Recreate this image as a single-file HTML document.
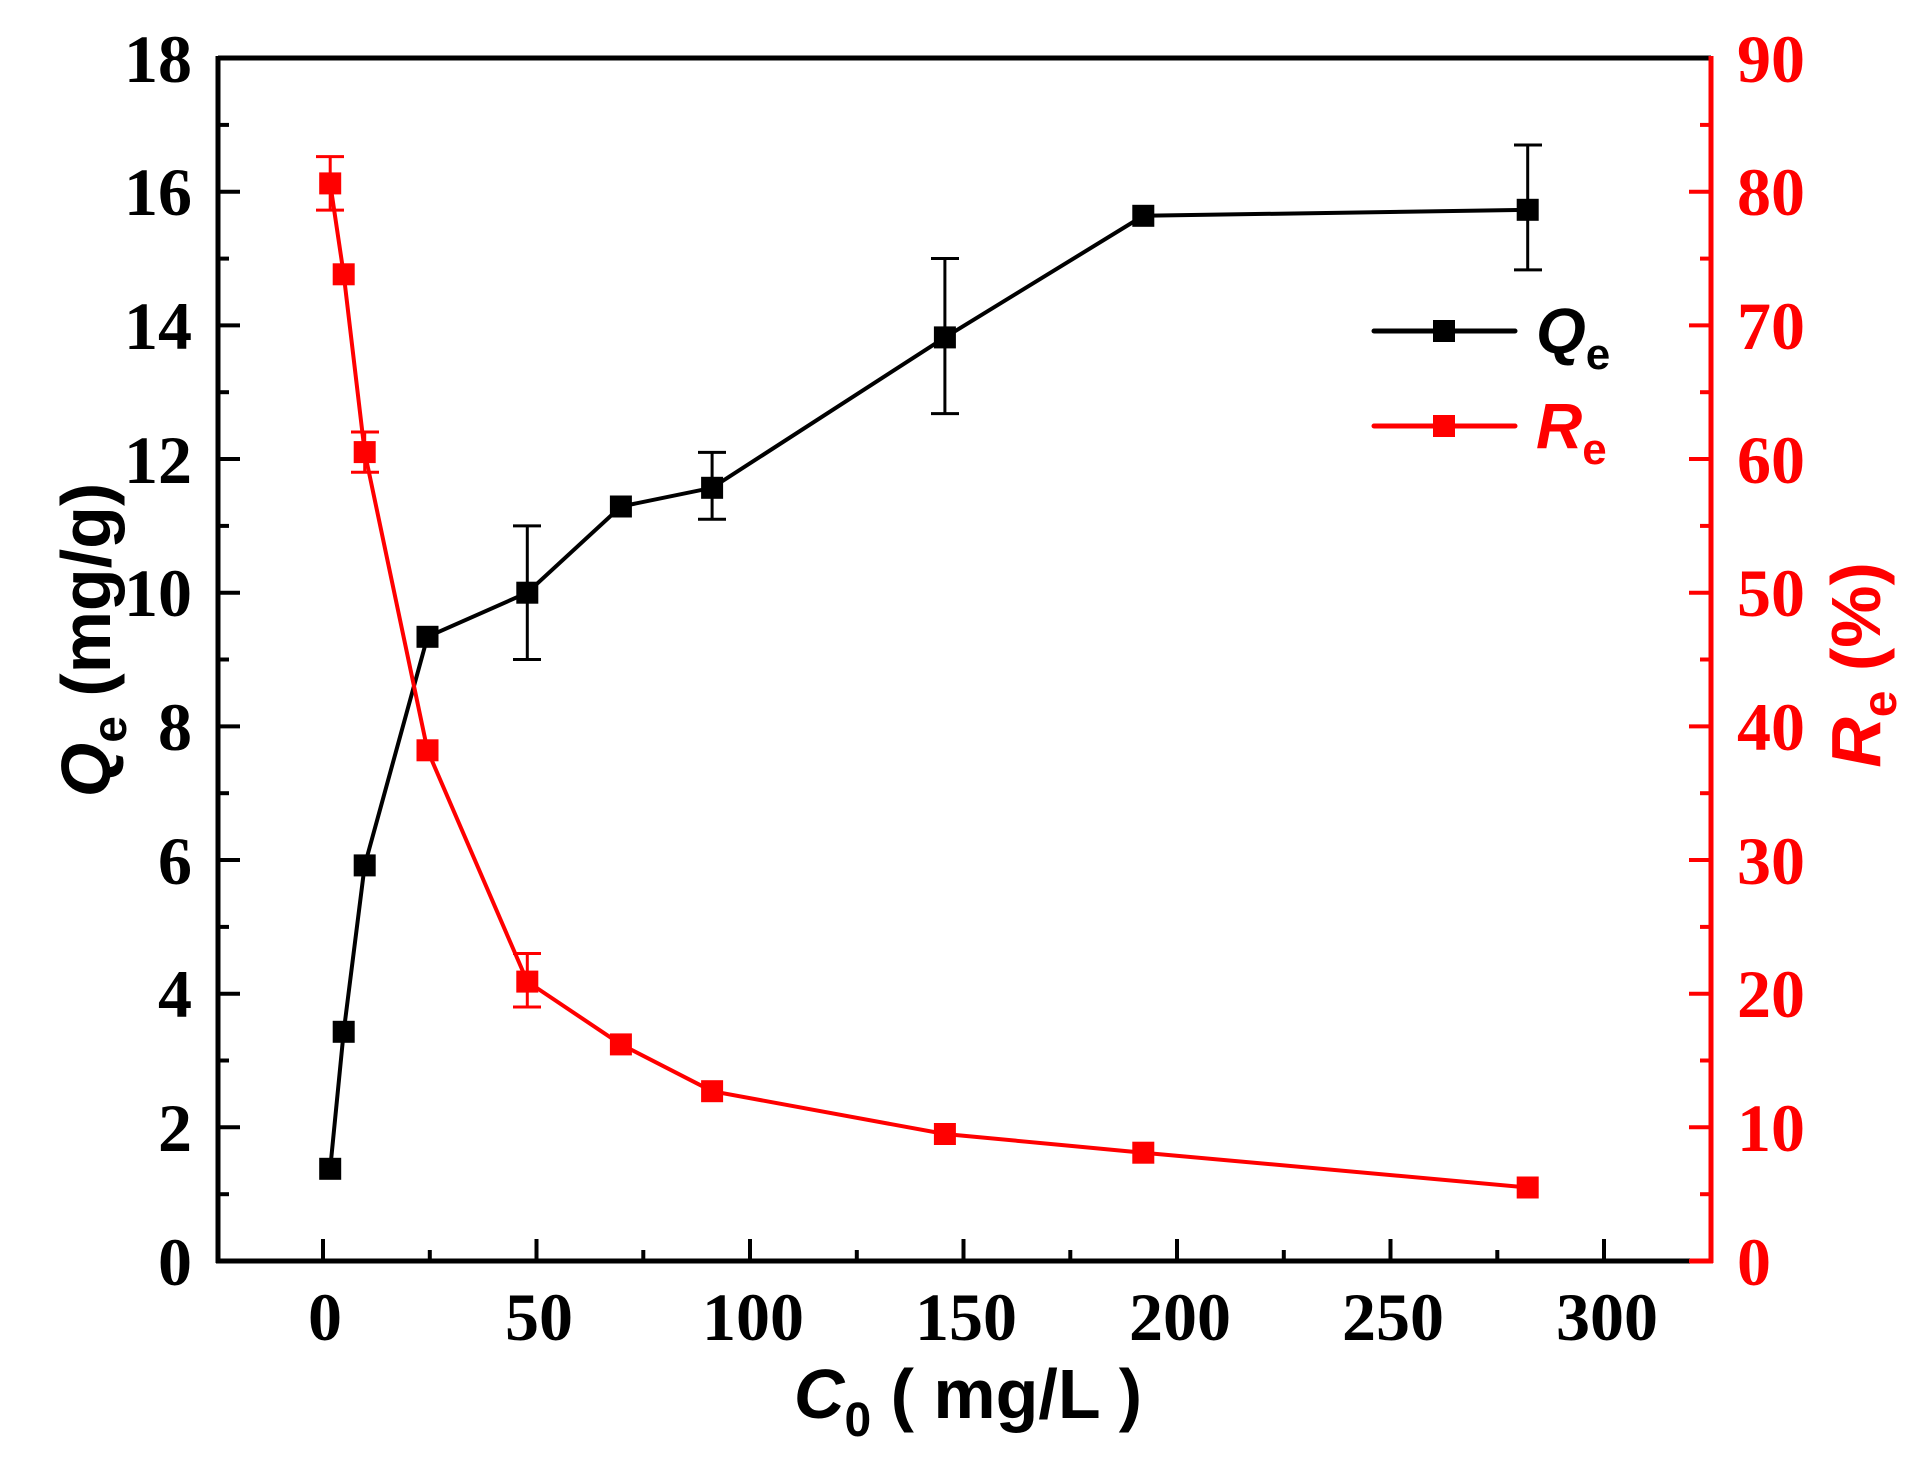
<!DOCTYPE html>
<html><head><meta charset="utf-8"><style>html,body{margin:0;padding:0;background:#fff}svg{display:block}</style></head>
<body>
<svg width="1932" height="1468" viewBox="0 0 1932 1468" xmlns="http://www.w3.org/2000/svg">
<line x1="218" y1="58" x2="1711" y2="58" stroke="#000" stroke-width="5"/>
<line x1="218" y1="56" x2="218" y2="1263" stroke="#000" stroke-width="5"/>
<line x1="216" y1="1261" x2="1690" y2="1261" stroke="#000" stroke-width="5"/>
<line x1="1690" y1="1261" x2="1713" y2="1261" stroke="#f00" stroke-width="5"/>
<line x1="1711" y1="56" x2="1711" y2="1263" stroke="#f00" stroke-width="5"/>
<g stroke="#000" stroke-width="4">
<line x1="218" x2="240" y1="1261" y2="1261"/><line x1="218" x2="229" y1="1194.2" y2="1194.2"/>
<line x1="218" x2="240" y1="1127.3" y2="1127.3"/><line x1="218" x2="229" y1="1060.5" y2="1060.5"/>
<line x1="218" x2="240" y1="993.7" y2="993.7"/><line x1="218" x2="229" y1="926.9" y2="926.9"/>
<line x1="218" x2="240" y1="860" y2="860"/><line x1="218" x2="229" y1="793.2" y2="793.2"/>
<line x1="218" x2="240" y1="726.4" y2="726.4"/><line x1="218" x2="229" y1="659.5" y2="659.5"/>
<line x1="218" x2="240" y1="592.7" y2="592.7"/><line x1="218" x2="229" y1="525.9" y2="525.9"/>
<line x1="218" x2="240" y1="459" y2="459"/><line x1="218" x2="229" y1="392.2" y2="392.2"/>
<line x1="218" x2="240" y1="325.4" y2="325.4"/><line x1="218" x2="229" y1="258.6" y2="258.6"/>
<line x1="218" x2="240" y1="191.7" y2="191.7"/><line x1="218" x2="229" y1="124.9" y2="124.9"/>
<line x1="323" x2="323" y1="1261" y2="1239"/><line x1="429.8" x2="429.8" y1="1261" y2="1250"/>
<line x1="536.5" x2="536.5" y1="1261" y2="1239"/><line x1="643.3" x2="643.3" y1="1261" y2="1250"/>
<line x1="750" x2="750" y1="1261" y2="1239"/><line x1="856.8" x2="856.8" y1="1261" y2="1250"/>
<line x1="963.5" x2="963.5" y1="1261" y2="1239"/><line x1="1070.3" x2="1070.3" y1="1261" y2="1250"/>
<line x1="1177" x2="1177" y1="1261" y2="1239"/><line x1="1283.8" x2="1283.8" y1="1261" y2="1250"/>
<line x1="1390.5" x2="1390.5" y1="1261" y2="1239"/><line x1="1497.3" x2="1497.3" y1="1261" y2="1250"/>
<line x1="1604" x2="1604" y1="1261" y2="1239"/>
</g>
<g stroke="#f00" stroke-width="4">
<line x1="1711" x2="1689" y1="1261" y2="1261"/><line x1="1711" x2="1700" y1="1194.2" y2="1194.2"/>
<line x1="1711" x2="1689" y1="1127.3" y2="1127.3"/><line x1="1711" x2="1700" y1="1060.5" y2="1060.5"/>
<line x1="1711" x2="1689" y1="993.7" y2="993.7"/><line x1="1711" x2="1700" y1="926.9" y2="926.9"/>
<line x1="1711" x2="1689" y1="860" y2="860"/><line x1="1711" x2="1700" y1="793.2" y2="793.2"/>
<line x1="1711" x2="1689" y1="726.4" y2="726.4"/><line x1="1711" x2="1700" y1="659.5" y2="659.5"/>
<line x1="1711" x2="1689" y1="592.7" y2="592.7"/><line x1="1711" x2="1700" y1="525.9" y2="525.9"/>
<line x1="1711" x2="1689" y1="459" y2="459"/><line x1="1711" x2="1700" y1="392.2" y2="392.2"/>
<line x1="1711" x2="1689" y1="325.4" y2="325.4"/><line x1="1711" x2="1700" y1="258.6" y2="258.6"/>
<line x1="1711" x2="1689" y1="191.7" y2="191.7"/><line x1="1711" x2="1700" y1="124.9" y2="124.9"/>
</g>
<g font-family="Liberation Serif, serif" font-weight="bold" font-size="68" text-anchor="end" fill="#000">
<text x="192" y="1285">0</text><text x="192" y="1151">2</text><text x="192" y="1017">4</text>
<text x="192" y="884">6</text><text x="192" y="750">8</text><text x="192" y="616">10</text>
<text x="192" y="483">12</text><text x="192" y="349">14</text><text x="192" y="215">16</text>
<text x="192" y="82">18</text>
</g>
<g font-family="Liberation Serif, serif" font-weight="bold" font-size="68" text-anchor="start" fill="#f00">
<text x="1737" y="1285">0</text><text x="1737" y="1151">10</text><text x="1737" y="1017">20</text>
<text x="1737" y="884">30</text><text x="1737" y="750">40</text><text x="1737" y="616">50</text>
<text x="1737" y="483">60</text><text x="1737" y="349">70</text><text x="1737" y="215">80</text>
<text x="1737" y="82">90</text>
</g>
<g font-family="Liberation Serif, serif" font-weight="bold" font-size="68" text-anchor="middle" fill="#000">
<text x="325" y="1340">0</text><text x="539" y="1340">50</text><text x="753" y="1340">100</text>
<text x="966" y="1340">150</text><text x="1180" y="1340">200</text><text x="1393" y="1340">250</text>
<text x="1607" y="1340">300</text>
</g>
<text x="968" y="1418" text-anchor="middle" font-family="Liberation Sans, sans-serif" font-weight="bold" font-size="70"><tspan font-style="italic">C</tspan><tspan font-size="48" dy="18">0</tspan><tspan dy="-18"> ( mg/L )</tspan></text>
<text transform="translate(110,640) rotate(-90)" text-anchor="middle" font-family="Liberation Sans, sans-serif" font-weight="bold" font-size="70"><tspan font-style="italic">Q</tspan><tspan font-size="48" dy="16">e</tspan><tspan dy="-16"> (mg/g)</tspan></text>
<text transform="translate(1880,665) rotate(-90)" text-anchor="middle" fill="#f00" font-family="Liberation Sans, sans-serif" font-weight="bold" font-size="70"><tspan font-style="italic">R</tspan><tspan font-size="48" dy="16">e</tspan><tspan dy="-16"> (%)</tspan></text>
<g stroke="#000" stroke-width="3">
<line x1="527.3" x2="527.3" y1="525.9" y2="659.5"/><line x1="513" x2="541" y1="525.9" y2="525.9"/><line x1="513" x2="541" y1="659.5" y2="659.5"/>
<line x1="712.1" x2="712.1" y1="452.4" y2="519.2"/><line x1="698" x2="726" y1="452.4" y2="452.4"/><line x1="698" x2="726" y1="519.2" y2="519.2"/>
<line x1="944.9" x2="944.9" y1="258.5" y2="413.6"/><line x1="931" x2="959" y1="258.5" y2="258.5"/><line x1="931" x2="959" y1="413.6" y2="413.6"/>
<line x1="1527.7" x2="1527.7" y1="145" y2="269.9"/><line x1="1514" x2="1542" y1="145" y2="145"/><line x1="1514" x2="1542" y1="269.9" y2="269.9"/>
</g>
<polyline fill="none" stroke="#000" stroke-width="4" points="330.2,1168.8 343.7,1031.8 364.7,865.4 427.5,636.8 527.3,592.7 620.9,506.5 712.1,487.8 944.9,337.4 1143.3,215.8 1527.7,209.8"/>
<g fill="#000">
<rect x="319.2" y="1157.8" width="22" height="22"/><rect x="332.7" y="1020.8" width="22" height="22"/>
<rect x="353.7" y="854.4" width="22" height="22"/><rect x="416.5" y="625.8" width="22" height="22"/>
<rect x="516.3" y="581.7" width="22" height="22"/><rect x="609.9" y="495.5" width="22" height="22"/>
<rect x="701.1" y="476.8" width="22" height="22"/><rect x="933.9" y="326.4" width="22" height="22"/>
<rect x="1132.3" y="204.8" width="22" height="22"/><rect x="1516.7" y="198.8" width="22" height="22"/>
</g>
<g stroke="#f00" stroke-width="3">
<line x1="330.2" x2="330.2" y1="156.6" y2="210.1"/><line x1="316" x2="344" y1="156.6" y2="156.6"/><line x1="316" x2="344" y1="210.1" y2="210.1"/>
<line x1="364.7" x2="364.7" y1="432" y2="472.2"/><line x1="351" x2="379" y1="432" y2="432"/><line x1="351" x2="379" y1="472.2" y2="472.2"/>
<line x1="527.3" x2="527.3" y1="953.5" y2="1007"/><line x1="513" x2="541" y1="953.5" y2="953.5"/><line x1="513" x2="541" y1="1007" y2="1007"/>
</g>
<polyline fill="none" stroke="#f00" stroke-width="4" points="330.2,183.4 343.7,274.3 364.7,452.1 427.5,750.3 527.3,981.6 620.9,1044.4 712.1,1091.2 944.9,1134 1143.3,1152.7 1527.7,1187.5"/>
<g fill="#f00">
<rect x="319.2" y="172.4" width="22" height="22"/><rect x="332.7" y="263.3" width="22" height="22"/>
<rect x="353.7" y="441.1" width="22" height="22"/><rect x="416.5" y="739.3" width="22" height="22"/>
<rect x="516.3" y="970.6" width="22" height="22"/><rect x="609.9" y="1033.4" width="22" height="22"/>
<rect x="701.1" y="1080.2" width="22" height="22"/><rect x="933.9" y="1123" width="22" height="22"/>
<rect x="1132.3" y="1141.7" width="22" height="22"/><rect x="1516.7" y="1176.5" width="22" height="22"/>
</g>
<line x1="1374" x2="1515" y1="331" y2="331" stroke="#000" stroke-width="5" stroke-linecap="round"/>
<rect x="1433" y="320" width="22" height="22" fill="#000"/>
<text x="1536" y="353" font-family="Liberation Sans, sans-serif" font-weight="bold" font-style="italic" font-size="64">Q<tspan font-size="44" font-style="normal" dy="16">e</tspan></text>
<line x1="1374" x2="1515" y1="426" y2="426" stroke="#f00" stroke-width="5" stroke-linecap="round"/>
<rect x="1433" y="415" width="22" height="22" fill="#f00"/>
<text x="1536" y="448" fill="#f00" font-family="Liberation Sans, sans-serif" font-weight="bold" font-style="italic" font-size="64">R<tspan font-size="44" font-style="normal" dy="16">e</tspan></text>
</svg>
</body></html>
